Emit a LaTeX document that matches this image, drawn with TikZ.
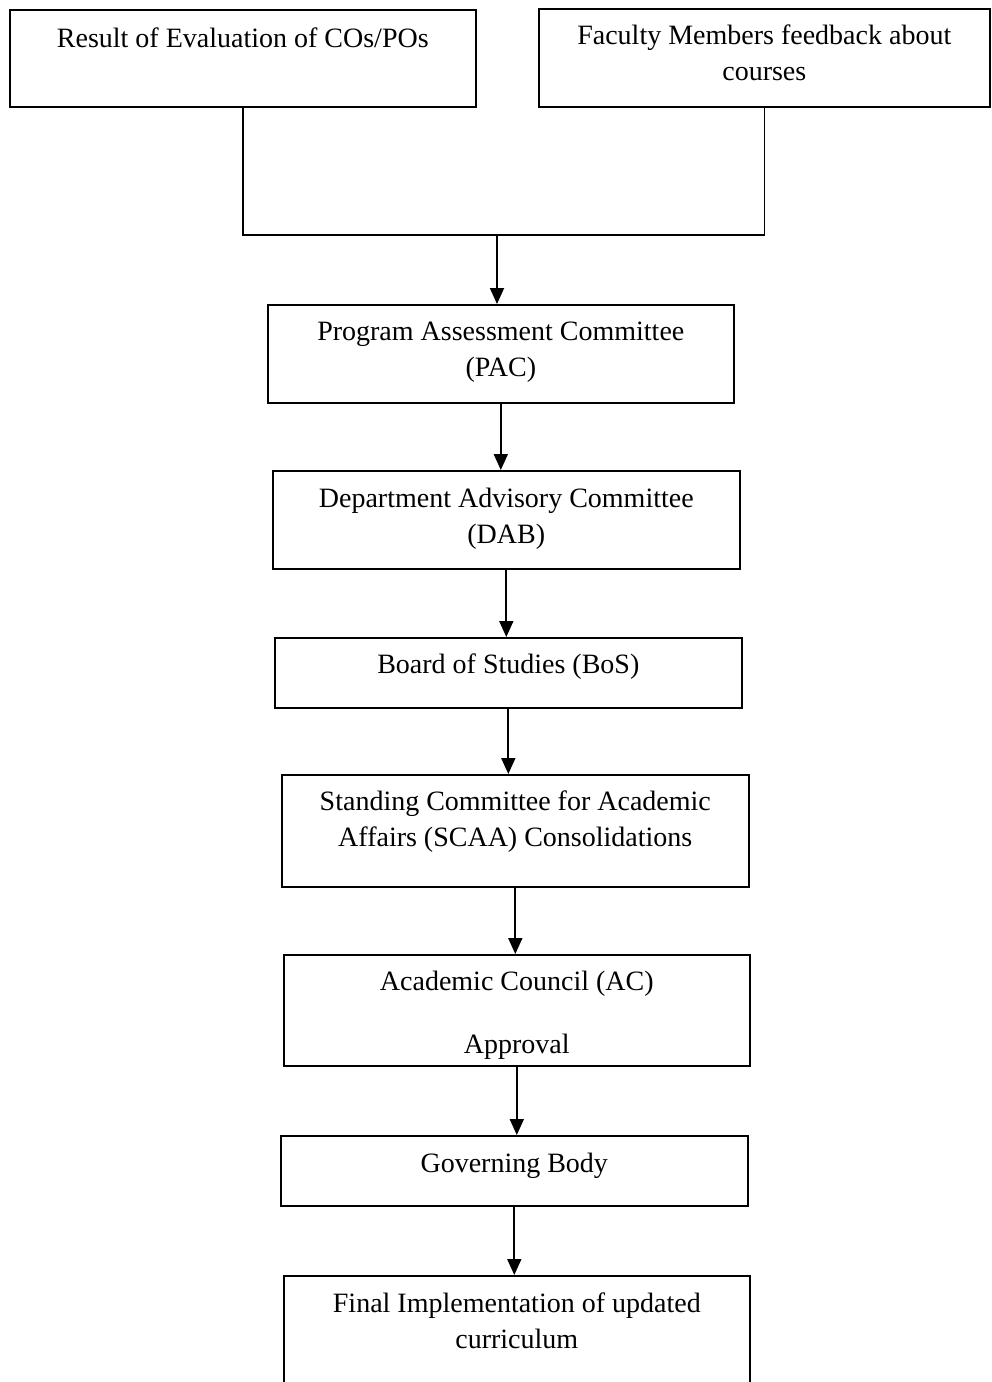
\documentclass[tikz,border=0pt]{standalone}
\usepackage{fontspec}
\setmainfont{Liberation Serif}
\usetikzlibrary{arrows.meta}

\begin{document}
\begin{tikzpicture}[x=1pt,y=-1pt,
  stage/.style={draw, line width=1.6pt, inner sep=0pt, align=flush center, anchor=north west,
    font=\fontsize{28}{36}\selectfont},
  flow/.style={line width=1.8pt, -{Triangle[length=16pt,width=14pt]}}]
\useasboundingbox (0,0) rectangle (991,1382);
\clip (0,0) rectangle (991,1382);
% inputs
\node[stage, text width=466pt, text height=38pt, text depth=59pt] (res) at (9,9)
  {Result of Evaluation of COs/POs};
\node[stage, text width=451pt, text height=36pt, text depth=62pt] (fac) at (538,8)
  {Faculty Members feedback about\\courses};
\coordinate (merge) at (497,235);
\draw[line width=1.6pt] (res.south) |- (merge) -| (fac.south);
% committees
\node[stage, text width=466pt, text height=36pt, text depth=62pt] (pac) at (267,304)
  {Program Assessment Committee\\(PAC)};
\node[stage, text width=467pt, text height=37pt, text depth=61pt] (dab) at (272,470)
  {Department Advisory Committee\\(DAB)};
\node[stage, text width=467pt, text height=36pt, text depth=34pt] (bos) at (274,637)
  {Board of Studies (BoS)};
\node[stage, text width=467pt, text height=36pt, text depth=76pt] (scaa) at (281,774)
  {Standing Committee for Academic\\Affairs (SCAA) Consolidations};
\node[stage, text width=466pt, text height=36pt, text depth=75pt] (ac) at (283,954)
  {Academic Council (AC)\\[27pt]Approval};
\node[stage, text width=467pt, text height=37pt, text depth=33pt] (gb) at (280,1135)
  {Governing Body};
\node[stage, text width=466pt, text height=37pt, text depth=130pt] (fin) at (283,1275)
  {Final Implementation of updated\\curriculum};
% arrows
\draw[flow] (merge) -- (merge |- pac.north);
\draw[flow] (pac.south) -- (pac.south |- dab.north);
\draw[flow] (dab.south) -- (dab.south |- bos.north);
\draw[flow] (bos.south) -- (bos.south |- scaa.north);
\draw[flow] (scaa.south) -- (scaa.south |- ac.north);
\draw[flow] (ac.south) -- (ac.south |- gb.north);
\draw[flow] (gb.south) -- (gb.south |- fin.north);
\end{tikzpicture}
\end{document}
